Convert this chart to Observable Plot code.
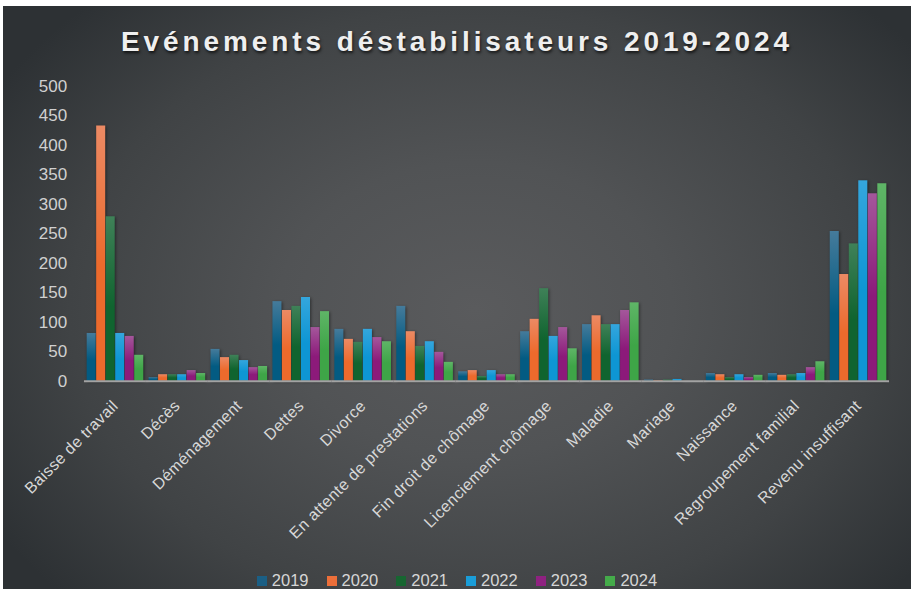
<!DOCTYPE html>
<html>
<head>
<meta charset="utf-8">
<script src="https://cdn.jsdelivr.net/npm/d3@7"></script>
<script src="https://cdn.jsdelivr.net/npm/@observablehq/plot@0.6"></script>
<style>
  html, body { margin: 0; padding: 0; background: #ffffff; width: 911px; height: 589px; overflow: hidden; }
  #frame {
    position: absolute; left: 3px; top: 6px; width: 908px; height: 583px; overflow: hidden;
    background: radial-gradient(ellipse 62% 72% at 52% 52%, #5a5b5d 0%, #515355 35%, #404345 72%, #2d3134 100%);
    font-family: "Liberation Sans", Arial, sans-serif;
  }
  #title {
    position: absolute; left: 0; top: 22px; width: 908px; text-align: center;
    font-size: 28px; line-height: 28px; font-weight: bold; letter-spacing: 3.9px;
    color: #efefef; text-shadow: 1px 2px 3px rgba(0,0,0,0.7);
  }
  #chart { position: absolute; left: 0; top: 60px; }
  #legend {
    position: absolute; left: 0; top: 566px; width: 908px; display: flex; justify-content: center;
    font-size: 16.5px; line-height: 16px; color: #d6d6d6;
  }
  .item { display: inline-flex; align-items: baseline; margin: 0 9px; }
  .sw { display: inline-block; width: 10px; height: 10px; margin-right: 5px; }
</style>
</head>
<body>
<div id="frame">
  <div id="title">Evénements déstabilisateurs 2019-2024</div>
  <div id="chart"></div>
  <div id="legend"></div>
</div>
<script>
const categories = ["Baisse de travail", "Décès", "Déménagement", "Dettes", "Divorce",
  "En attente de prestations", "Fin droit de chômage", "Licenciement chômage", "Maladie",
  "Mariage", "Naissance", "Regroupement familial", "Revenu insuffisant"];
const years = ["2019", "2020", "2021", "2022", "2023", "2024"];
const v2019 = [81, 6, 54, 135, 88, 127, 16, 84, 96, 2, 13, 13, 254];
const v2020 = [433, 11, 40, 120, 71, 84, 18, 105, 111, 1, 11, 10, 181];
const v2021 = [279, 11, 44, 127, 66, 59, 8, 157, 96, 2, 6, 11, 233];
const v2022 = [81, 11, 35, 142, 88, 67, 18, 76, 96, 3, 11, 13, 340];
const v2023 = [76, 18, 23, 91, 74, 49, 11, 91, 120, 0, 6, 23, 318];
const v2024 = [44, 13, 25, 118, 67, 32, 11, 55, 133, 0, 10, 33, 335];
const yTicks = [0, 50, 100, 150, 200, 250, 300, 350, 400, 450, 500];

const baseColors = ["#035b82", "#ec6a2c", "#10642f", "#0e96d4", "#8c1a7a", "#3ea547"];
const topColors  = ["#457b9b", "#ec8a64", "#3f8158", "#34a6dd", "#a4579b", "#5fb567"];
const legendColors = ["#1b5f85", "#ec6f3a", "#176631", "#1a9dd8", "#8f2281", "#44ab4a"];

const series = [v2019, v2020, v2021, v2022, v2023, v2024];
const table = [];
categories.forEach((c, i) => years.forEach((y, j) => table.push({category: c, year: y, value: series[j][i]})));

const svg = Plot.plot({
  width: 908,
  height: 500,
  marginTop: 20,
  marginBottom: 185.3,
  marginLeft: 81,
  marginRight: 22,
  style: {background: "transparent", color: "#d2d2d2", fontFamily: "'Liberation Sans', Arial, sans-serif"},
  fx: {domain: categories, paddingInner: 0.086, paddingOuter: 0.043, round: false, label: null},
  x: {domain: years, axis: null, paddingInner: 0.05, paddingOuter: 0, round: false},
  y: {domain: [0, 500], label: null},
  color: {type: "ordinal", domain: years, range: years.map(y => `url(#g${y})`)},
  marks: [
    Plot.barY(table, {fx: "category", x: "year", y: "value", fill: "year"}),
    Plot.ruleY([0], {stroke: "#a3a3a3", strokeWidth: 2, insetLeft: -2.7, insetRight: -2.7}),
    Plot.axisY({ticks: yTicks, tickSize: 0, tickPadding: 20, fontSize: 17, fill: "#d0d0d0", label: null}),
    Plot.axisFx({anchor: "bottom", tickSize: 0, tickPadding: 22, tickRotate: -45, fontSize: 16,
      textAnchor: "end", lineAnchor: "middle", fill: "#d8d8d8", label: null})
  ]
});

const defs = d3.select(svg).insert("defs", ":first-child");
years.forEach((y, j) => {
  const g = defs.append("linearGradient").attr("id", `g${y}`).attr("x1", 0).attr("y1", 0).attr("x2", 0).attr("y2", 1);
  g.append("stop").attr("offset", "0%").attr("stop-color", topColors[j]);
  g.append("stop").attr("offset", "55%").attr("stop-color", baseColors[j]);
  g.append("stop").attr("offset", "100%").attr("stop-color", baseColors[j]);
});
d3.select(svg).selectAll("g[aria-label='bar']").style("filter", "drop-shadow(1.5px 1px 1.5px rgba(0,0,0,0.45))");
d3.select(svg).selectAll("g[aria-label='fx-axis tick label'] text").style("letter-spacing", "0.4px");

document.getElementById("chart").appendChild(svg);

const legend = document.getElementById("legend");
years.forEach((y, j) => {
  const item = document.createElement("span");
  item.className = "item";
  const sw = document.createElement("span");
  sw.className = "sw";
  sw.style.background = legendColors[j];
  item.appendChild(sw);
  item.appendChild(document.createTextNode(y));
  legend.appendChild(item);
});
</script>
</body>
</html>
